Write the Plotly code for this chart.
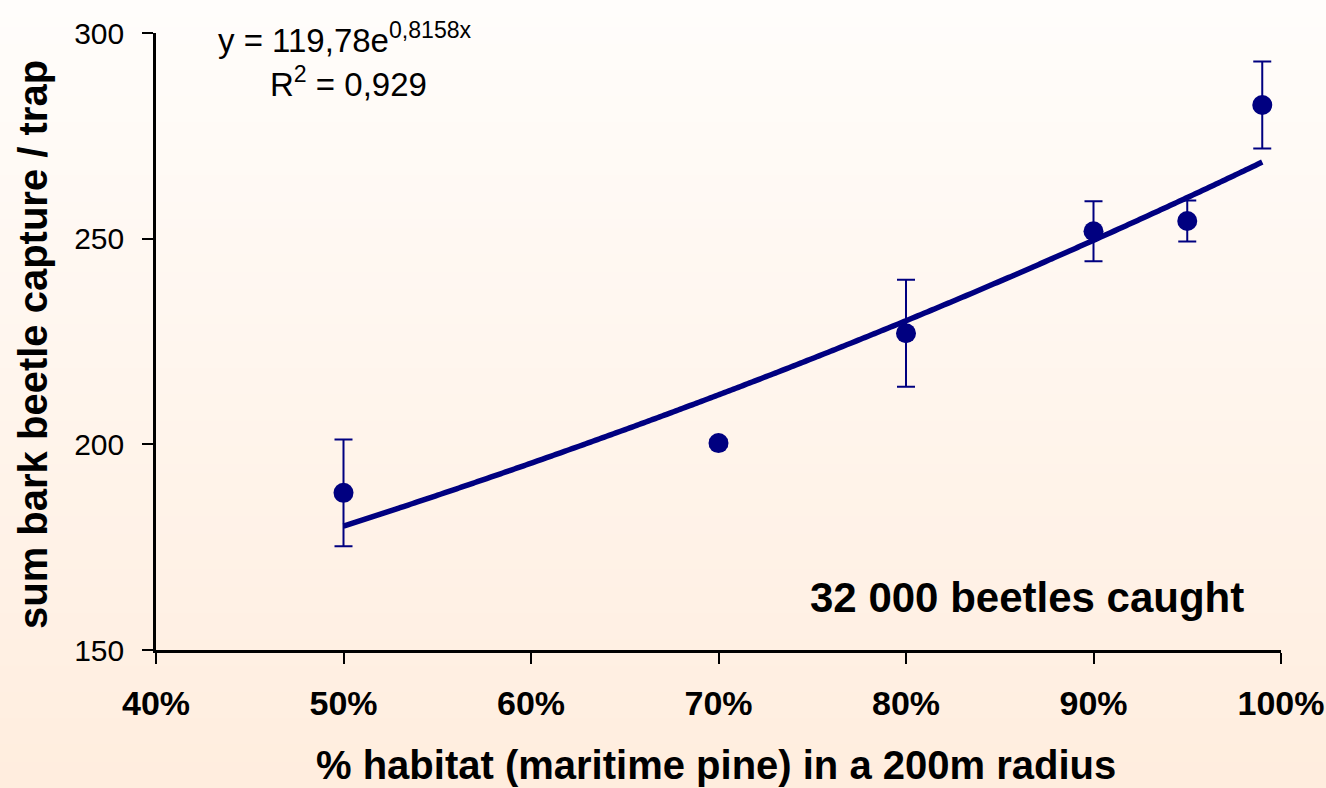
import numpy as np
import plotly.graph_objects as go

# Habitat share (fraction of maritime pine within 200 m) and trap captures
habitat = [0.50, 0.70, 0.80, 0.90, 0.95, 0.99]
capture = [188.2, 200.3, 227.0, 251.8, 254.3, 282.5]
capture_err = [13.0, 0.8, 13.0, 7.3, 5.0, 10.6]

# Exponential fit reported on the chart: y = a * exp(b * x)
fit_a = 119.78
fit_b = 0.8158
fit_x = np.linspace(0.50, 0.99, 200)
fit_y = fit_a * np.exp(fit_b * fit_x)

x_ticks = [0.4, 0.5, 0.6, 0.7, 0.8, 0.9, 1.0]
x_tick_text = ["40%", "50%", "60%", "70%", "80%", "90%", "100%"]
y_ticks = [150, 200, 250, 300]

NAVY = "#000080"
W, H = 1326, 788
M_L, M_R, M_T, M_B = 156, 45, 33, 138

fig = go.Figure()

fig.add_trace(go.Scatter(
    x=fit_x, y=fit_y, mode="lines",
    line=dict(color=NAVY, width=5.5, shape="spline"),
    hoverinfo="skip", showlegend=False,
))

fig.add_trace(go.Scatter(
    x=habitat, y=capture, mode="markers",
    marker=dict(color=NAVY, size=20, line=dict(width=0)),
    error_y=dict(type="data", array=capture_err, visible=True,
                 color=NAVY, thickness=2, width=9),
    showlegend=False,
))

# Soft vertical gradient background (white at top to peach at bottom)
pw = W - M_L - M_R
ph = H - M_T - M_B
x0p = -M_L / pw
x1p = (W - M_L) / pw
top_p = (H - M_B) / ph
bot_p = (H - M_B - H) / ph
n_bands = 90
shapes = []
top_rgb = np.array([255, 253, 251])
bot_rgb = np.array([255, 237, 222])
for i in range(n_bands):
    t = (i + 0.5) / n_bands
    c = top_rgb + (bot_rgb - top_rgb) * t
    ya = top_p + (bot_p - top_p) * i / n_bands
    yb = top_p + (bot_p - top_p) * (i + 1.15) / n_bands
    shapes.append(dict(
        type="rect", xref="paper", yref="paper",
        x0=x0p, x1=x1p, y0=yb, y1=ya,
        fillcolor="rgb(%d,%d,%d)" % tuple(np.round(c).astype(int)),
        line=dict(width=0), layer="below",
    ))

def px_x(p):
    return (p - M_L) / pw

def px_y(p):
    return (H - M_B - p) / ph

annotations = [
    dict(text="y = 119,78e<sup>0,8158x</sup>", xref="paper", yref="paper",
         x=px_x(345), y=px_y(38), xanchor="center", yanchor="middle",
         showarrow=False, font=dict(family="Liberation Sans", size=33, color="black")),
    dict(text="R<sup>2</sup> = 0,929", xref="paper", yref="paper",
         x=px_x(348), y=px_y(82), xanchor="center", yanchor="middle",
         showarrow=False, font=dict(family="Liberation Sans", size=33, color="black")),
    dict(text="<b>32 000 beetles caught</b>", xref="paper", yref="paper",
         x=px_x(1246), y=px_y(597), xanchor="right", yanchor="middle",
         showarrow=False, font=dict(family="Liberation Sans", size=42, color="black")),
    dict(text="<b>% habitat (maritime pine) in a 200m radius</b>", xref="paper", yref="paper",
         x=px_x(716), y=px_y(765), xanchor="center", yanchor="middle",
         showarrow=False, font=dict(family="Liberation Sans", size=40, color="black")),
    dict(text="<b>sum bark beetle capture / trap</b>", xref="paper", yref="paper",
         x=px_x(33), y=px_y(345), xanchor="center", yanchor="middle", textangle=-90,
         showarrow=False, font=dict(family="Liberation Sans", size=40, color="black")),
]

fig.update_layout(
    width=W, height=H,
    margin=dict(l=M_L, r=M_R, t=M_T, b=M_B, pad=0, autoexpand=False),
    paper_bgcolor="rgb(255,245,237)",
    plot_bgcolor="rgba(0,0,0,0)",
    shapes=shapes,
    annotations=annotations,
    showlegend=False,
    xaxis=dict(
        range=[0.4, 1.0], tickvals=x_ticks, ticktext=x_tick_text,
        automargin=False,
        showgrid=False, zeroline=False,
        showline=True, linecolor="black", linewidth=2.5,
        ticks="outside", ticklen=11, tickwidth=2, tickcolor="black",
        ticklabelstandoff=10,
        tickfont=dict(family="Liberation Sans", size=34, color="black", weight="bold"),
    ),
    yaxis=dict(
        range=[150, 300], tickvals=y_ticks,
        automargin=False,
        showgrid=False, zeroline=False,
        showline=True, linecolor="black", linewidth=2.5,
        ticks="outside", ticklen=11, tickwidth=2, tickcolor="black",
        ticklabelstandoff=12,
        tickfont=dict(family="Liberation Sans", size=30, color="black"),
    ),
)

fig.write_html("out.html")
